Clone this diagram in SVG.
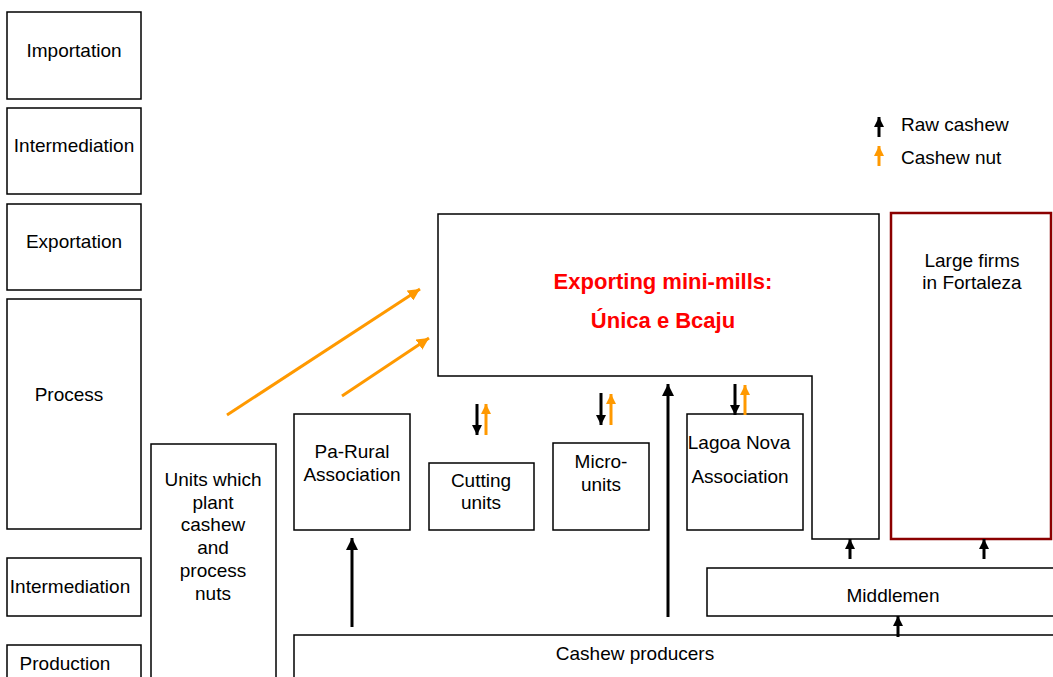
<svg xmlns="http://www.w3.org/2000/svg" width="1053" height="677" viewBox="0 0 1053 677">
<style>
.box{fill:#fff;stroke:#000;stroke-width:1.5}
.t{font-family:"Liberation Sans",Arial,sans-serif;font-size:19px;fill:#000;text-anchor:middle}
.red{font-family:"Liberation Sans",Arial,sans-serif;font-size:22px;font-weight:bold;fill:#ff0000;text-anchor:middle}
.blk{stroke:#000;stroke-width:3;fill:none}
.org{stroke:#ff9900;stroke-width:3;fill:none}
</style>
<defs>
<marker id="hb" markerUnits="userSpaceOnUse" markerWidth="12" markerHeight="12" refX="10" refY="5" orient="auto" viewBox="0 0 10 10"><path d="M0,0 L10,5 L0,10 z" fill="#000"/></marker>
<marker id="hbs" markerUnits="userSpaceOnUse" markerWidth="10" markerHeight="10" refX="10" refY="5" orient="auto" viewBox="0 0 10 10"><path d="M0,0 L10,5 L0,10 z" fill="#000"/></marker>
<marker id="ho" markerUnits="userSpaceOnUse" markerWidth="10" markerHeight="10" refX="10" refY="5" orient="auto" viewBox="0 0 10 10"><path d="M0,0 L10,5 L0,10 z" fill="#ff9900"/></marker>
<marker id="hol" markerUnits="userSpaceOnUse" markerWidth="12" markerHeight="12" refX="10" refY="5" orient="auto" viewBox="0 0 10 10"><path d="M0,0 L10,5 L0,10 z" fill="#ff9900"/></marker>
</defs>
<rect width="1053" height="677" fill="#fff"/>
<g id="level-importation"><rect class="box" x="7" y="12" width="134" height="87"/><text class="t" x="74" y="57">Importation</text></g>
<g id="level-intermediation-top"><rect class="box" x="7" y="108" width="134" height="86"/><text class="t" x="74" y="152">Intermediation</text></g>
<g id="level-exportation"><rect class="box" x="7" y="204" width="134" height="86"/><text class="t" x="74" y="248">Exportation</text></g>
<g id="level-process"><rect class="box" x="7" y="299" width="134" height="230"/><text class="t" x="69" y="401">Process</text></g>
<g id="level-intermediation-bottom"><rect class="box" x="7" y="558" width="134" height="58"/><text class="t" x="70" y="593">Intermediation</text></g>
<g id="level-production"><rect class="box" x="7" y="645" width="134" height="40"/><text class="t" x="65" y="670">Production</text></g>
<g id="units-plant"><rect class="box" x="151" y="444" width="125" height="240"/>
<text class="t" x="213" y="486">Units which</text><text class="t" x="213" y="508.5">plant</text><text class="t" x="213" y="531">cashew</text><text class="t" x="213" y="554">and</text><text class="t" x="213" y="577">process</text><text class="t" x="213" y="599.5">nuts</text></g>
<g id="pa-rural"><rect class="box" x="294" y="414" width="116" height="116"/><text class="t" x="352" y="458">Pa-Rural</text><text class="t" x="352" y="481">Association</text></g>
<g id="cutting-units"><rect class="box" x="429" y="463" width="105" height="67"/><text class="t" x="481" y="487">Cutting</text><text class="t" x="481" y="509">units</text></g>
<g id="micro-units"><rect class="box" x="553" y="443" width="96" height="87"/><text class="t" x="601" y="468">Micro-</text><text class="t" x="601" y="491">units</text></g>
<g id="lagoa-nova"><rect class="box" x="687" y="414" width="116" height="116"/><text class="t" x="739" y="449">Lagoa Nova</text><text class="t" x="740" y="483">Association</text></g>
<g id="exporting-mills"><path class="box" d="M438,214 H879 V539 H812 V376 H438 Z"/><text class="red" x="663" y="289">Exporting mini-mills:</text><text class="red" x="663" y="328">Única e Bcaju</text></g>
<g id="large-firms"><rect x="891" y="213" width="160" height="326" fill="#fff" stroke="#8b0000" stroke-width="2.5"/><text class="t" x="972" y="267">Large firms</text><text class="t" x="972" y="289">in Fortaleza</text></g>
<g id="middlemen"><rect class="box" x="707" y="568" width="360" height="48"/><text class="t" x="893" y="602">Middlemen</text></g>
<g id="cashew-producers"><rect class="box" x="294" y="635" width="780" height="60"/><text class="t" x="635" y="660">Cashew producers</text></g>
<g id="legend"><line class="blk" x1="879" y1="137" x2="879" y2="117" stroke-width="2.5" marker-end="url(#hbs)"/><text class="t" x="901" y="131" style="text-anchor:start">Raw cashew</text>
<line class="org" x1="879" y1="166" x2="879" y2="146" stroke-width="2.5" marker-end="url(#ho)"/><text class="t" x="901" y="164" style="text-anchor:start">Cashew nut</text></g>
<g id="connectors">
<line class="blk" x1="352" y1="627" x2="352" y2="538" marker-end="url(#hb)"/>
<line class="blk" x1="668" y1="617" x2="668" y2="384" marker-end="url(#hb)"/>
<line class="blk" x1="850" y1="559" x2="850" y2="539" stroke-width="2.5" marker-end="url(#hbs)"/>
<line class="blk" x1="984" y1="559" x2="984" y2="539" stroke-width="2.5" marker-end="url(#hbs)"/>
<line class="blk" x1="898" y1="637" x2="898" y2="616" stroke-width="2.5" marker-end="url(#hbs)"/>
<line class="blk" x1="477" y1="404" x2="477" y2="435" stroke-width="2.5" marker-end="url(#hbs)"/>
<line class="org" x1="486" y1="435" x2="486" y2="404" stroke-width="2.5" marker-end="url(#ho)"/>
<line class="blk" x1="601" y1="393" x2="601" y2="425" stroke-width="2.5" marker-end="url(#hbs)"/>
<line class="org" x1="611" y1="425" x2="611" y2="394" stroke-width="2.5" marker-end="url(#ho)"/>
<line class="blk" x1="735" y1="384" x2="735" y2="415" stroke-width="2.5" marker-end="url(#hbs)"/>
<line class="org" x1="745" y1="415" x2="745" y2="385" stroke-width="2.5" marker-end="url(#ho)"/>
<line class="org" x1="227" y1="415" x2="420" y2="289" marker-end="url(#hol)"/>
<line class="org" x1="342" y1="396" x2="429" y2="338" marker-end="url(#hol)"/>
</g>
</svg>
